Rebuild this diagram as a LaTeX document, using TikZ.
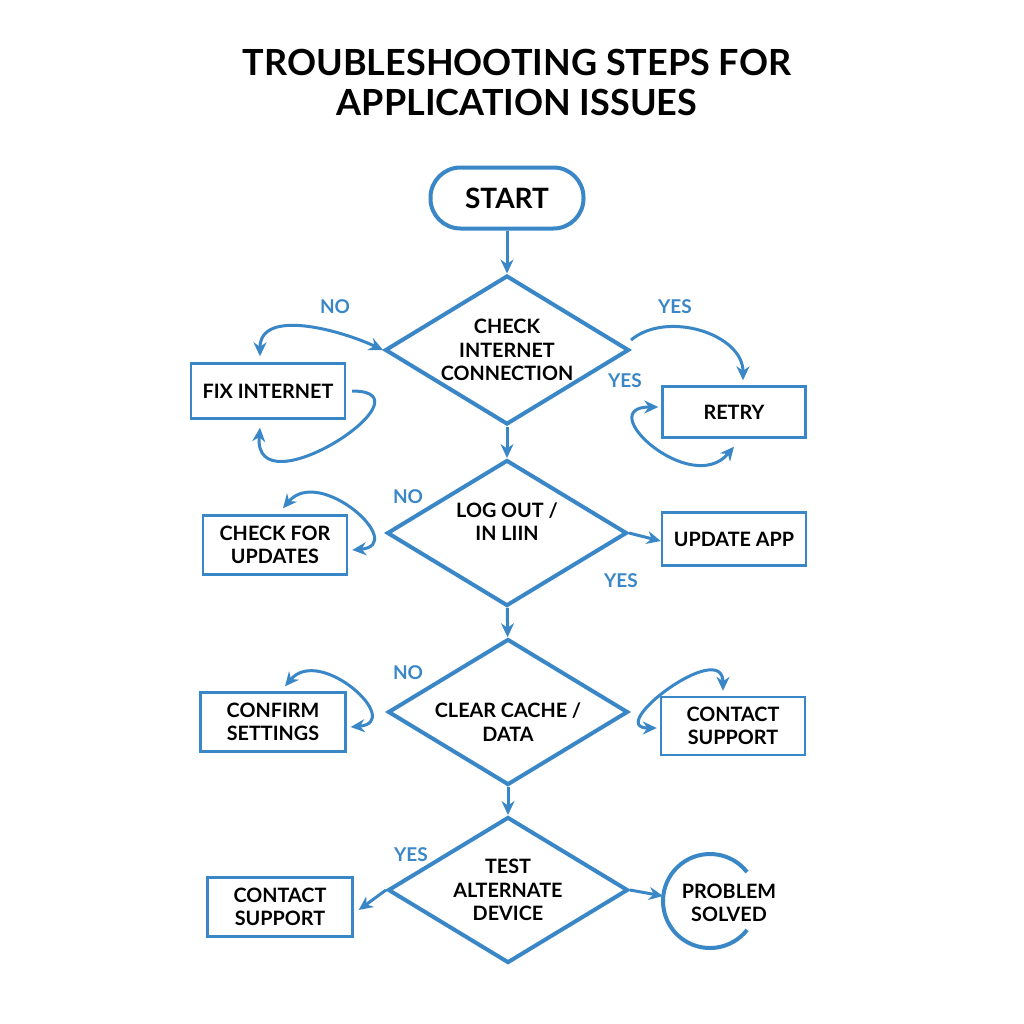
\documentclass[tikz,border=0pt]{standalone}
\usepackage{fontspec}
\setmainfont{Lato}
\usetikzlibrary{shapes.geometric,arrows.meta}
\definecolor{azul}{HTML}{3A87C8}

\begin{document}
\begin{tikzpicture}[x=0.5pt,y=0.5pt,>={Stealth[length=7pt,width=6.5pt]},
    texto/.style={font=\fontsize{9.9}{11.8}\selectfont\bfseries,align=center},
    caja/.style={texto,draw=azul,line width=1.2pt,fill=white,minimum width=72pt,minimum height=29pt,inner sep=2pt},
    rombo/.style={texto,diamond,draw=azul,line width=2pt,aspect=1.64,inner sep=-3pt,minimum width=120pt,minimum height=73pt},
    linea/.style={azul,line width=1.5pt},
    etiqueta/.style={text=azul,font=\fontsize{9.5}{10}\selectfont\bfseries}]
        % Fondo
        \fill[white] (0,0) rectangle (1024,-1024);

        % Titulo
        \node (titulo) [align=center,font=\fontsize{18}{20}\selectfont\bfseries] at (517,-82) {TROUBLESHOOTING STEPS FOR\\APPLICATION ISSUES};

        % Inicio y decisiones
        \node (inicio) [draw=azul,line width=2pt,rounded corners=15pt,minimum width=76.5pt,minimum height=30.5pt,font=\fontsize{14}{15}\selectfont\bfseries] at (507,-198) {START};
        \node (d1) [rombo,minimum width=122pt,minimum height=74.5pt] at (507,-350) {CHECK\\INTERNET\\CONNECTION};
        \node (d2) [rombo,text depth=11.5pt] at (507,-533) {LOG OUT /\\IN LIIN};
        \node (d3) [rombo,text height=29.5pt] at (508,-712) {CLEAR CACHE /\\DATA};
        \node (d4) [rombo] at (508,-890) {TEST\\ALTERNATE\\DEVICE};

        % Cajas
        \node (fix) [caja,minimum width=77pt,minimum height=27.5pt] at (268,-391) {FIX INTERNET};
        \node (retry) [caja,minimum width=71.5pt,minimum height=25.5pt] at (734,-412) {RETRY};
        \node (chk) [caja,minimum height=29.5pt] at (275,-545) {CHECK FOR\\UPDATES};
        \node (upd) [caja,minimum height=26.5pt] at (734,-539) {UPDATE APP};
        \node (conf) [caja,minimum width=72.5pt,minimum height=29.5pt] at (273,-722) {CONFIRM\\SETTINGS};
        \node (csr) [caja] at (733,-726) {CONTACT\\SUPPORT};
        \node (csl) [caja,minimum width=72.5pt,minimum height=29.5pt] at (280,-907) {CONTACT\\SUPPORT};
        \node (solved) [texto] at (729,-903) {PROBLEM\\SOLVED};
        \draw[azul,line width=2pt] ([shift={(-9.5pt,1pt)}]solved.center) ++(38:23.5pt) arc[start angle=38,end angle=322,radius=23.5pt];

        % Flujo principal
        \draw[linea,->] (inicio) -- (d1);
        \draw[linea,->] (d1) -- (d2);
        \draw[linea,->] (d2) -- (d3);
        \draw[linea,->] (d3) -- (d4);

        % Internet
        \draw[linea,<->] ([xshift=-4pt,yshift=3pt]fix.north) to[out=90,in=155] (d1.west);
        \draw[linea,->] ([xshift=3pt]fix.east) to[out=0,in=-95,looseness=2.2] ([xshift=-4pt,yshift=-4pt]fix.south);
        \draw[linea,->] ([yshift=5pt]d1.east) to[out=40,in=90] ([xshift=4.5pt,yshift=2.5pt]retry.north);
        \draw[linea,<->] ([xshift=-1.5pt,yshift=2.5pt]retry.west) to[out=180,in=-130,looseness=2] ([yshift=-4pt]retry.south);
        \node[etiqueta] (no1) at (335,-307) {NO};
        \node[etiqueta] (si1) at (675,-307) {YES};
        \node[etiqueta] (si2) at (625,-381) {YES};

        % Sesion
        \draw[linea,<->] ([xshift=4pt,yshift=3pt]chk.north) to[out=50,in=5,looseness=1.8] ([xshift=2pt,yshift=-2.5pt]chk.east);
        \draw[linea,->] (d2.east) -- ([yshift=-1pt]upd.west);
        \node[etiqueta] (no2) at (408,-497) {NO};
        \node[etiqueta] (si3) at (621,-581) {YES};

        % Cache
        \draw[linea,<->] ([xshift=6pt,yshift=2.5pt]conf.north) to[out=50,in=5,looseness=1.8] ([xshift=2pt,yshift=-2.5pt]conf.east);
        \draw[linea,<->] ([xshift=-1.5pt,yshift=-1pt]csr.west) to[out=180,in=90,looseness=1.8] ([xshift=-5pt,yshift=2.5pt]csr.north);
        \node[etiqueta] (no3) at (408,-673) {NO};

        % Otro dispositivo
        \draw[linea,->] (d4.west) -- ([xshift=2.5pt,yshift=-1.5pt]csl.east);
        \draw[linea,->] (d4.east) -- ([shift={(-33pt,3.5pt)}]solved.center);
        \node[etiqueta] (si4) at (411,-855) {YES};
\end{tikzpicture}
\end{document}
